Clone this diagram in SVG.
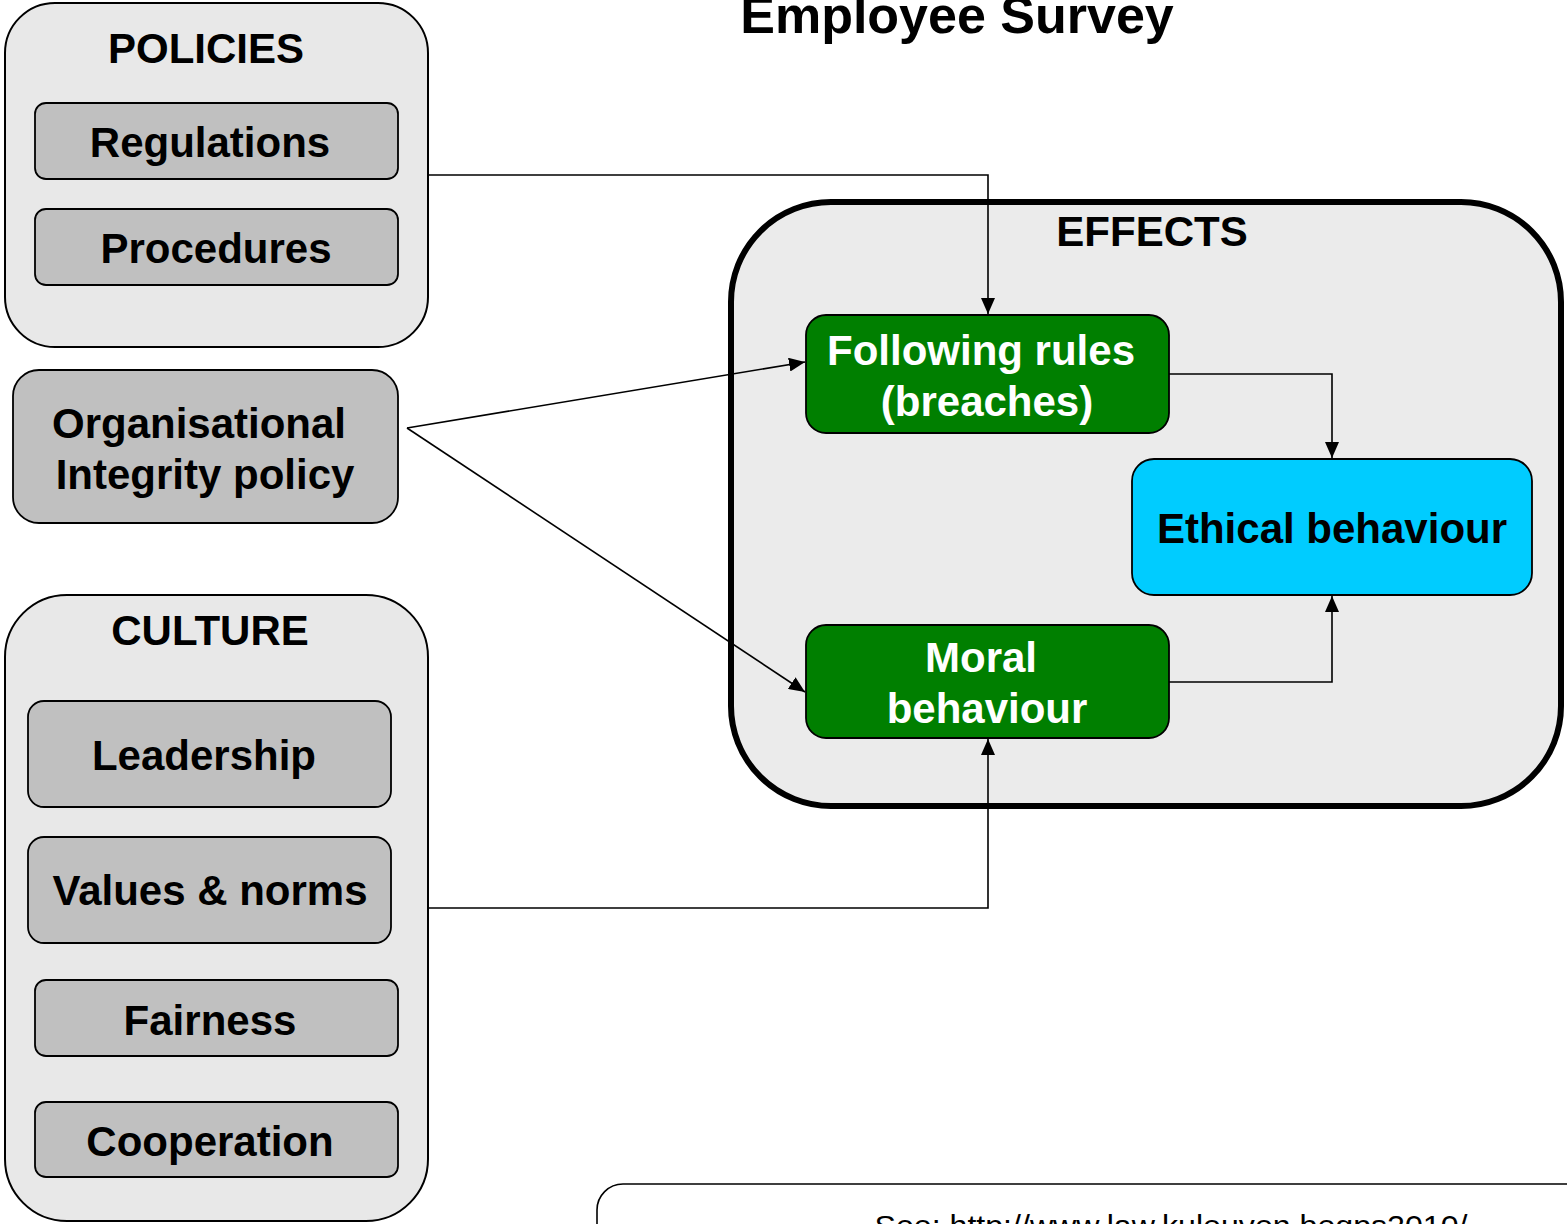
<svg xmlns="http://www.w3.org/2000/svg" width="1567" height="1224" viewBox="0 0 1567 1224">
<defs>
<marker id="arr" markerWidth="16" markerHeight="14" refX="16" refY="7" orient="auto" markerUnits="userSpaceOnUse">
<path d="M0,0 L16,7 L0,14 Z" fill="#000"/>
</marker>
<style>
text{font-family:"Liberation Sans",Arial,Helvetica,sans-serif;font-weight:bold;text-anchor:middle}
.cont{fill:#e8e8e8;stroke:#000;stroke-width:2}
.item{fill:#c0c0c0;stroke:#000;stroke-width:1.8}
.green{fill:#007f00;stroke:#000;stroke-width:1.8}
.t40{font-size:42px;fill:#000}
.w40{font-size:42px;fill:#fff}
.conn{fill:none;stroke:#000;stroke-width:1.6}
.foot{font-weight:normal;font-size:30px;fill:#000}
</style>
</defs>
<rect width="1567" height="1224" fill="#fff"/>
<text x="957" y="33" font-size="52" fill="#000">Employee Survey</text>

<g id="policies">
<rect class="cont" x="5" y="3" width="423" height="344" rx="50"/>
<text class="t40" x="206" y="63">POLICIES</text>
</g>
<g id="regulations">
<rect class="item" x="35" y="103" width="363" height="76" rx="11"/>
<text class="t40" x="210" y="157">Regulations</text>
</g>
<g id="procedures">
<rect class="item" x="35" y="209" width="363" height="76" rx="11"/>
<text class="t40" x="216" y="263">Procedures</text>
</g>
<g id="integrity">
<rect class="item" x="13" y="370" width="385" height="153" rx="26"/>
<text class="t40" x="199" y="438">Organisational</text>
<text class="t40" x="205" y="489">Integrity policy</text>
</g>

<g id="culture">
<rect class="cont" x="5" y="595" width="423" height="626" rx="62"/>
<text class="t40" x="210" y="645">CULTURE</text>
</g>
<g id="leadership">
<rect class="item" x="28" y="701" width="363" height="106" rx="16"/>
<text class="t40" x="204" y="770">Leadership</text>
</g>
<g id="values">
<rect class="item" x="28" y="837" width="363" height="106" rx="16"/>
<text class="t40" x="210" y="905">Values &amp; norms</text>
</g>
<g id="fairness">
<rect class="item" x="35" y="980" width="363" height="76" rx="11"/>
<text class="t40" x="210" y="1035">Fairness</text>
</g>
<g id="cooperation">
<rect class="item" x="35" y="1102" width="363" height="75" rx="11"/>
<text class="t40" x="210" y="1156">Cooperation</text>
</g>

<g id="effects">
<rect x="731" y="202" width="830" height="604" rx="100" fill="#ebebeb" stroke="#000" stroke-width="6"/>
<text class="t40" x="1152" y="246">EFFECTS</text>
</g>
<g id="following">
<rect class="green" x="806" y="315" width="363" height="118" rx="20"/>
<text class="w40" x="981" y="365">Following rules</text>
<text class="w40" x="987" y="416">(breaches)</text>
</g>
<g id="moral">
<rect class="green" x="806" y="625" width="363" height="113" rx="20"/>
<text class="w40" x="981" y="672">Moral</text>
<text class="w40" x="987" y="723">behaviour</text>
</g>
<g id="ethical">
<rect x="1132" y="459" width="400" height="136" rx="22" fill="#00ccff" stroke="#000" stroke-width="1.8"/>
<text class="t40" x="1332" y="543">Ethical behaviour</text>
</g>

<g id="connectors">
<path class="conn" d="M428,175 H988 V314" marker-end="url(#arr)"/>
<path class="conn" d="M407,428 L805,362" marker-end="url(#arr)"/>
<path class="conn" d="M407,428 L805,692" marker-end="url(#arr)"/>
<path class="conn" d="M428,908 H988 V739" marker-end="url(#arr)"/>
<path class="conn" d="M1169,374 H1332 V458" marker-end="url(#arr)"/>
<path class="conn" d="M1169,682 H1332 V596" marker-end="url(#arr)"/>
</g>

<g id="footer">
<rect x="597" y="1184" width="1000" height="100" rx="26" fill="#fff" stroke="#000" stroke-width="1.6"/>
<text class="foot" x="1171" y="1236" textLength="593" lengthAdjust="spacingAndGlyphs">See: http://www.law.kuleuven.beqps2010/</text>
</g>
</svg>
